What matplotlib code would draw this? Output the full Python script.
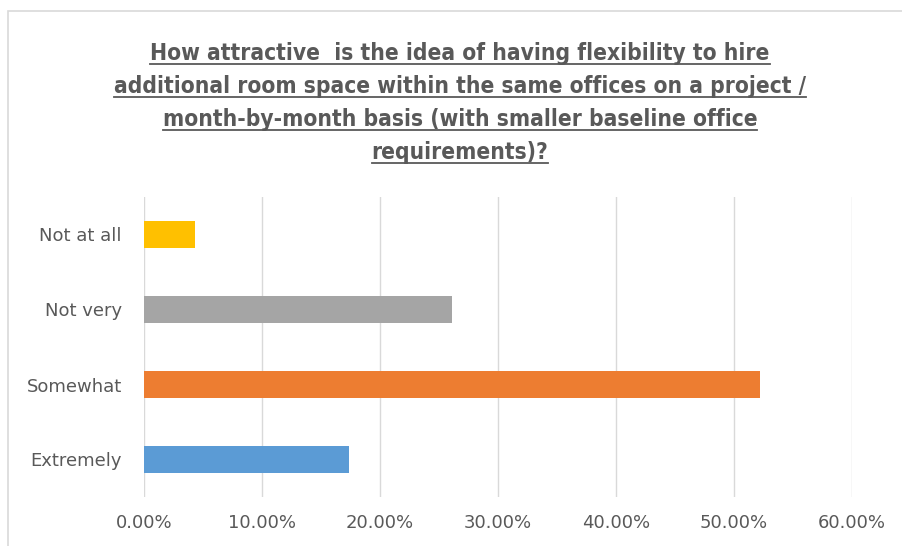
import matplotlib.pyplot as plt
from matplotlib.patches import Rectangle
from matplotlib.ticker import FuncFormatter

categories = ['Extremely', 'Somewhat', 'Not very', 'Not at all']
shares = [4 / 23, 12 / 23, 6 / 23, 1 / 23]
colors = ['#5B9BD5', '#ED7D31', '#A5A5A5', '#FFC000']
title_lines = ['How attractive  is the idea of having flexibility to hire',
               'additional room space within the same offices on a project /',
               'month-by-month basis (with smaller baseline office',
               'requirements)?']

fig = plt.figure(figsize=(9.02, 5.46), dpi=100)
fig.patches.append(Rectangle((8 / 902, -0.1), 1.1, 1 - 11 / 546 + 0.1,
                             transform=fig.transFigure, fill=False,
                             edgecolor='#D9D9D9', linewidth=1.2))

ax = fig.add_axes([144 / 902, 1 - 497 / 546, 708 / 902, 300 / 546])
ax.barh(range(len(categories)), shares, height=0.35, color=colors)
ax.set_xlim(0, 0.6)
ax.set_ylim(-0.5, 3.5)
ax.set_xticks([0, 0.1, 0.2, 0.3, 0.4, 0.5, 0.6])
ax.xaxis.set_major_formatter(FuncFormatter(lambda v, p: f'{v * 100:.2f}%'))
ax.set_yticks(range(len(categories)))
ax.set_yticklabels(categories)
ax.grid(axis='x', color='#D9D9D9', linewidth=1)
ax.set_axisbelow(True)
for s in ax.spines.values():
    s.set_visible(False)
ax.tick_params(length=0, labelsize=13, labelcolor='#595959')
ax.tick_params(axis='y', pad=16)
ax.tick_params(axis='x', pad=12)

fig.canvas.draw()
r = fig.canvas.get_renderer()
base = [60, 93, 126, 159]
for line, b in zip(title_lines, base):
    t = fig.text(460 / 902, 1 - b / 546, line, ha='center', va='baseline',
                 fontsize=16.3, fontweight='bold', fontstretch='condensed',
                 color='#595959')
    bb = t.get_window_extent(r)
    y = (546 - b - 4) / 546
    fig.add_artist(plt.Line2D([bb.x0 / 902, bb.x1 / 902], [y, y],
                              transform=fig.transFigure, color='#595959', lw=1.3))

fig.savefig('out.png', dpi=100)
